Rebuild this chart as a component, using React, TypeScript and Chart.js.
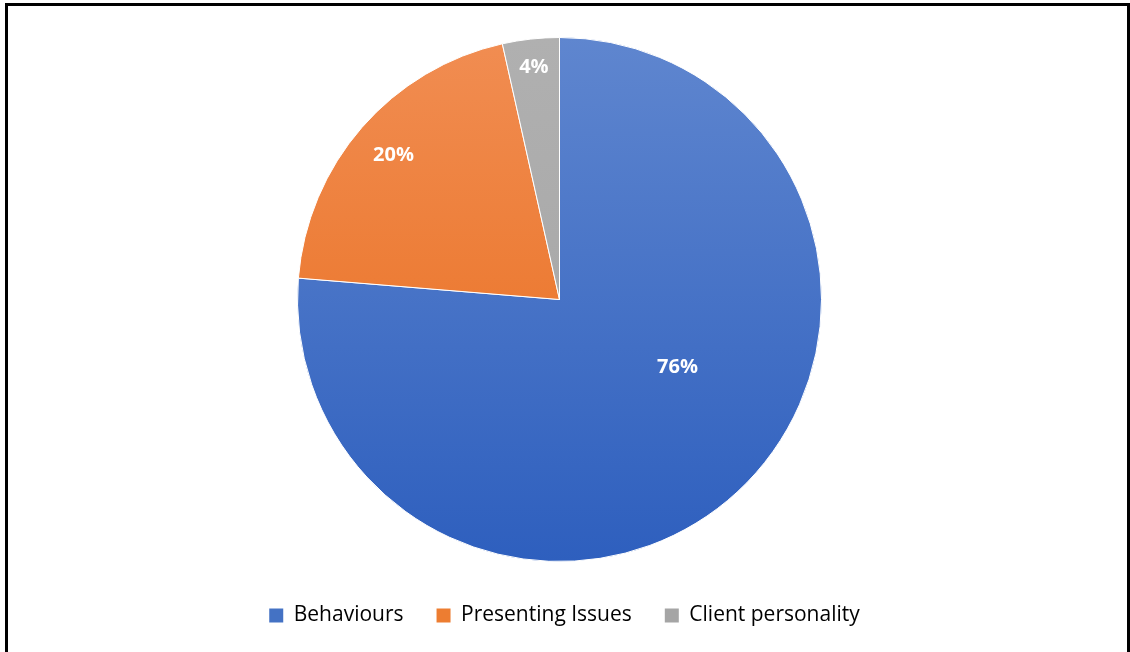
import React, { useEffect, useRef } from "react";
import { Chart, registerables } from "chart.js";

Chart.register(...registerables);

const categories = ["Behaviours", "Presenting Issues", "Client personality"];
const shares = [76.3, 20.2, 3.5];
const valueLabels = ["76%", "20%", "4%"];

const gradientStops: [string, string][] = [
  ["#5F86CF", "#2E5FBE"],
  ["#F18D52", "#E86A17"],
  ["#B0B0B0", "#A3A3A3"],
];
const legendColors = ["#4472C4", "#ED7D31", "#A5A5A5"];

// label placement: [angle (deg, clockwise from 12 o'clock) or null for slice middle, radius fraction]
const labelPlacement: [number | null, number][] = [
  [120, 0.52],
  [null, 0.84],
  [null, 0.89],
];

const PIE_RADIUS = 262;

const labelPlugin = {
  id: "sliceLabels",
  afterLayout(chart: any) {
    // shift legend slightly right, as in the reference
    const lg = chart.legend;
    if (lg) {
      lg.left += 5;
      lg.right += 5;
    }
  },
  afterDatasetsDraw(chart: any) {
    const ctx = chart.ctx;
    const meta = chart.getDatasetMeta(0);
    ctx.save();
    ctx.fillStyle = "#FFFFFF";
    ctx.font = "bold 20px 'Open Sans', 'Liberation Sans', sans-serif";
    ctx.textAlign = "center";
    ctx.textBaseline = "middle";
    meta.data.forEach((arc: any, i: number) => {
      const { x, y, startAngle, endAngle, outerRadius } = arc.getProps(
        ["x", "y", "startAngle", "endAngle", "outerRadius"],
        true
      );
      const [deg, frac] = labelPlacement[i];
      const ang =
        deg === null ? (startAngle + endAngle) / 2 : (deg * Math.PI) / 180 - Math.PI / 2;
      const r = outerRadius * frac;
      ctx.fillText(valueLabels[i], x + Math.cos(ang) * r, y + Math.sin(ang) * r);
    });
    ctx.restore();
  },
};

export default function App() {
  const canvasRef = useRef<HTMLCanvasElement | null>(null);

  useEffect(() => {
    if (!canvasRef.current) return;
    const chart = new Chart(canvasRef.current, {
      type: "pie",
      data: {
        labels: categories,
        datasets: [
          {
            data: shares,
            backgroundColor: (context: any) => {
              const c = context.chart;
              const i = context.dataIndex;
              const area = c.chartArea;
              if (!area || i === undefined) return legendColors[i ?? 0];
              const cy = (area.top + area.bottom) / 2;
              const g = c.ctx.createLinearGradient(0, cy - PIE_RADIUS, 0, cy + PIE_RADIUS);
              g.addColorStop(0, gradientStops[i][0]);
              g.addColorStop(1, gradientStops[i][1]);
              return g;
            },
            borderColor: "#FFFFFF",
            borderWidth: 1,
          },
        ],
      },
      options: {
        animation: false,
        responsive: false,
        radius: PIE_RADIUS,
        layout: { padding: { top: 27, bottom: 16, left: 0, right: 11 } },
        plugins: {
          tooltip: { enabled: false },
          legend: {
            position: "bottom",
            labels: {
              boxWidth: 14,
              boxHeight: 14,
              padding: 33,
              color: "#44546A",
              font: { family: "'Open Sans', 'Liberation Sans', sans-serif", size: 21 },
              generateLabels: () =>
                categories.map((c, i) => ({
                  text: c,
                  fillStyle: legendColors[i],
                  strokeStyle: legendColors[i],
                  lineWidth: 0,
                  hidden: false,
                  index: i,
                  datasetIndex: 0,
                })),
            },
          },
        },
      },
      plugins: [labelPlugin],
    });
    return () => chart.destroy();
  }, []);

  return (
    <div
      style={{
        position: "fixed",
        left: 0,
        top: 0,
        width: 1130,
        height: 652,
        background: "#FFFFFF",
        overflow: "hidden",
      }}
    >
      <canvas
        ref={canvasRef}
        width={1130}
        height={652}
        style={{ position: "absolute", left: 0, top: 0, width: 1130, height: 652 }}
      />
      <div
        style={{
          position: "absolute",
          left: 5,
          top: 3,
          width: 1119,
          height: 680,
          border: "3px solid #000000",
          pointerEvents: "none",
        }}
      />
    </div>
  );
}
